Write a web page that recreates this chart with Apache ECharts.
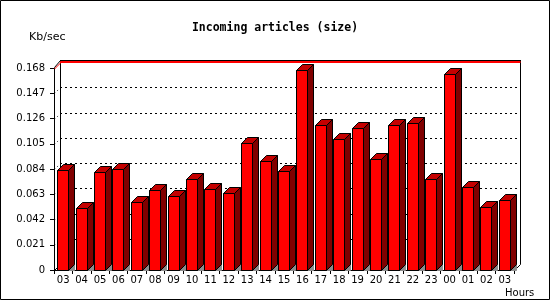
<!DOCTYPE html>
<html>
<head>
<meta charset="utf-8">
<script src="https://cdn.jsdelivr.net/npm/echarts@6/dist/echarts.min.js"></script>
<style>
html,body{margin:0;padding:0;background:#fff;}
#c{width:550px;height:300px;}
</style>
</head>
<body>
<div id="c"></div>
<script>
const hours = ['03','04','05','06','07','08','09','10','11','12','13','14','15','16','17','18','19','20','21','22','23','00','01','02','03'];
const sizeKb = [0.0833,0.0519,0.0817,0.0838,0.0568,0.0668,0.0618,0.0759,0.0676,0.0643,0.1057,0.0908,0.0825,0.1661,0.1206,0.1090,0.1181,0.0924,0.1206,0.1222,0.0759,0.1628,0.0693,0.0527,0.0585];
const yMax = 0.168;
const yStep = 0.021;
const titleText = 'Incoming articles (size)';
const yName = 'Kb/sec';
const xName = 'Hours';

const D = 6; // 3D depth in px
const FL = 54, FR = 514, FT = 68, FB = 270; // front plane
const BL = FL + D, BR = FR + D, BT = FT - D, BB = FB - D; // back plane
const nTicks = Math.round(yMax / yStep);

const chart = echarts.init(document.getElementById('c'), null, {renderer: 'canvas'});

function renderBar(params, api) {
  const i = api.value(0), v = api.value(1);
  const top = api.coord([i, v]);
  const base = api.coord([i, 0]);
  const W = 11;
  const L = Math.round(top[0] - 6) + 0.5;
  const T = Math.round(top[1]) + 0.5;
  const B = Math.round(base[1]) + 0.5;
  const R = L + W;
  return {
    type: 'group',
    children: [
      {type: 'polygon', shape: {points: [[R, B], [R + D, B - D], [R + D, B]]}, style: {fill: '#8c8c8c', stroke: '#8c8c8c', lineWidth: 1}},
      {type: 'rect', shape: {x: L, y: T, width: W, height: B - T}, style: {fill: '#ff0000', stroke: '#000', lineWidth: 1}},
      {type: 'polygon', shape: {points: [[L, T], [L + D, T - D], [R + D, T - D], [R, T]]}, style: {fill: '#c40000', stroke: '#000', lineWidth: 1}},
      {type: 'polygon', shape: {points: [[R, T], [R + D, T - D], [R + D, B - D], [R, B]]}, style: {fill: '#800000', stroke: '#000', lineWidth: 1}}
    ]
  };
}

// back-plane grid (dashed) and the red line at the scale maximum, projected from the front scales
function renderBack(params, api) {
  if (params.dataIndex !== 0) return null;
  const bw = api.size([1, 0])[0];
  const x0 = api.coord([0, 0])[0] - bw / 2 + D;
  const x1 = api.coord([hours.length - 1, 0])[0] + bw / 2 + D;
  const children = [];
  for (let k = 1; k < nTicks; k++) {
    const y = Math.round(api.coord([0, k * yStep])[1]) - D + 0.5;
    children.push({type: 'line', shape: {x1: x0, y1: y, x2: x1, y2: y}, style: {stroke: '#000', lineWidth: 1, lineDash: [2, 3]}});
  }
  const ym = Math.round(api.coord([0, yMax])[1]) - D;
  children.push({type: 'line', shape: {x1: x0, y1: ym, x2: x1 + 0.5, y2: ym}, style: {stroke: '#ff0000', lineWidth: 2}});
  return {type: 'group', children: children};
}

const labelFont = {fontFamily: 'DejaVu Sans', fontSize: 10, color: '#000'};

const TOPY = BT - 1.5; // black top edge of back plane
const graphics = [
  {type: 'rect', shape: {x: 0.5, y: 0.5, width: 549, height: 299}, style: {fill: 'none', stroke: '#000', lineWidth: 1}, z: 100},
  {type: 'line', shape: {x1: BL, y1: TOPY, x2: BR + 1, y2: TOPY}, style: {stroke: '#000', lineWidth: 1}, z: 5},
  {type: 'line', shape: {x1: BL + 0.5, y1: TOPY, x2: BL + 0.5, y2: BB}, style: {stroke: '#000', lineWidth: 1}, z: 1},
  {type: 'line', shape: {x1: BR + 0.5, y1: TOPY, x2: BR + 0.5, y2: BB + 0.5}, style: {stroke: '#000', lineWidth: 1}, z: 1},
  {type: 'line', shape: {x1: FL + 0.5, y1: FT - 0.5, x2: BL + 0.5, y2: TOPY}, style: {stroke: '#000', lineWidth: 1}, z: 5},
  {type: 'line', shape: {x1: FL + 0.5, y1: FT + 1, x2: BL + 1, y2: BT + 0.5}, style: {stroke: '#ff0000', lineWidth: 1}, z: 5},
  {type: 'line', shape: {x1: FR + 0.5, y1: FB + 0.5, x2: BR + 0.5, y2: BB + 0.5}, style: {stroke: '#000', lineWidth: 1}, z: 1},
  {type: 'line', shape: {x1: FL + 0.5, y1: FB + 0.5, x2: BL + 0.5, y2: BB + 0.5}, style: {stroke: '#000', lineWidth: 1}, z: 1},
  {type: 'text', x: 29, y: 37, style: {text: yName, fontFamily: 'DejaVu Sans', fontSize: 11, fill: '#000', verticalAlign: 'middle'}},
  {type: 'text', x: 505, y: 293, style: {text: xName, fontFamily: 'DejaVu Sans', fontSize: 10, fill: '#000', verticalAlign: 'middle'}}
];

const option = {
  animation: false,
  backgroundColor: '#fff',
  title: {
    text: titleText, left: 'center', top: 17,
    textStyle: {fontFamily: 'DejaVu Sans Mono', fontWeight: 'bold', fontSize: 11.5, color: '#000'}
  },
  grid: {left: FL, right: 550 - FR, top: FT, bottom: 300 - FB, show: false},
  xAxis: {type: 'category', data: hours, boundaryGap: true,
    axisLine: {lineStyle: {color: '#000', width: 1}},
    axisTick: {show: true, length: 4, lineStyle: {color: '#000'}},
    axisLabel: Object.assign({margin: 5, interval: 0}, labelFont),
    splitLine: {show: false}},
  yAxis: {type: 'value', min: 0, max: yMax, interval: yStep,
    axisLine: {show: true, lineStyle: {color: '#000', width: 1}},
    axisTick: {show: true, length: 4, lineStyle: {color: '#000'}},
    axisLabel: Object.assign({margin: 9, formatter: v => (v === 0 ? '0' : v.toFixed(3))}, labelFont),
    splitLine: {show: false}},
  series: [
    {type: 'custom', renderItem: renderBack, silent: true, z: 2, data: [[0, yMax]]},
    {type: 'custom', renderItem: renderBar, z: 10, data: sizeKb.map((v, i) => [i, v])}
  ],
  graphic: graphics
};
chart.setOption(option);

// small diagonal grid stubs from the front axis to the back plane
const stubs = [];
for (let k = 1; k < nTicks; k++) {
  const p = chart.convertToPixel({xAxisIndex: 0, yAxisIndex: 0}, [0, k * yStep]);
  const y = Math.round(p[1]) + 0.5;
  stubs.push({type: 'line', shape: {x1: FL + 0.5, y1: y, x2: BL + 0.5, y2: y - D}, style: {stroke: '#000', lineWidth: 1, lineDash: [1, 3]}, z: 1});
}
chart.setOption({graphic: graphics.concat(stubs)});
</script>
</body>
</html>
